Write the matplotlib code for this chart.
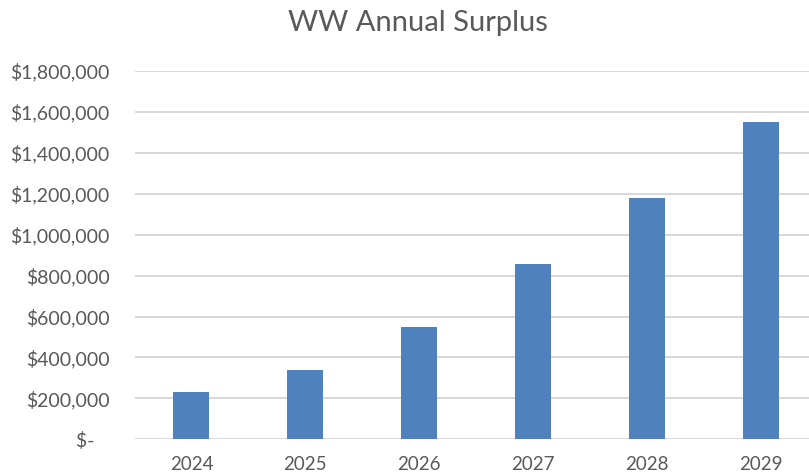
import matplotlib.pyplot as plt
from matplotlib.ticker import FuncFormatter

years = ["2024", "2025", "2026", "2027", "2028", "2029"]
surplus = [231000, 337000, 548000, 855000, 1181000, 1549000]

plt.rcParams["font.family"] = ["Lato", "DejaVu Sans"]

fig = plt.figure(figsize=(8.09, 4.76), dpi=100)
# plot area runs a little past the right edge, as in the reference crop
ax = fig.add_axes([134.5 / 809, 36.7 / 476, 683 / 809, 368.3 / 476])

x = range(len(years))
ax.bar(x, surplus, width=0.316, color="#4F81BD", zorder=3)

ax.set_xlim(-0.5, len(years) - 0.5)
ax.set_ylim(0, 1800000)
ax.set_yticks(range(0, 1800001, 200000))
ax.set_xticks(list(x))
ax.set_xticklabels(years)


def money(v, pos):
    if v == 0:
        return "$-   "
    return "${:,.0f}".format(v)


ax.yaxis.set_major_formatter(FuncFormatter(money))
ax.grid(axis="y", color="#D4D4D4", linewidth=1.3, zorder=0)
for s in ax.spines.values():
    s.set_visible(False)
ax.tick_params(axis="both", length=0, colors="#595959")
ax.tick_params(axis="y", pad=18, labelsize=14)
ax.tick_params(axis="x", pad=12, labelsize=13.5)

fig.text(417.5 / 809, 0.951, "WW Annual Surplus", ha="center", va="center",
         fontsize=21, color="#595959")

fig.savefig("out.png", dpi=100)
